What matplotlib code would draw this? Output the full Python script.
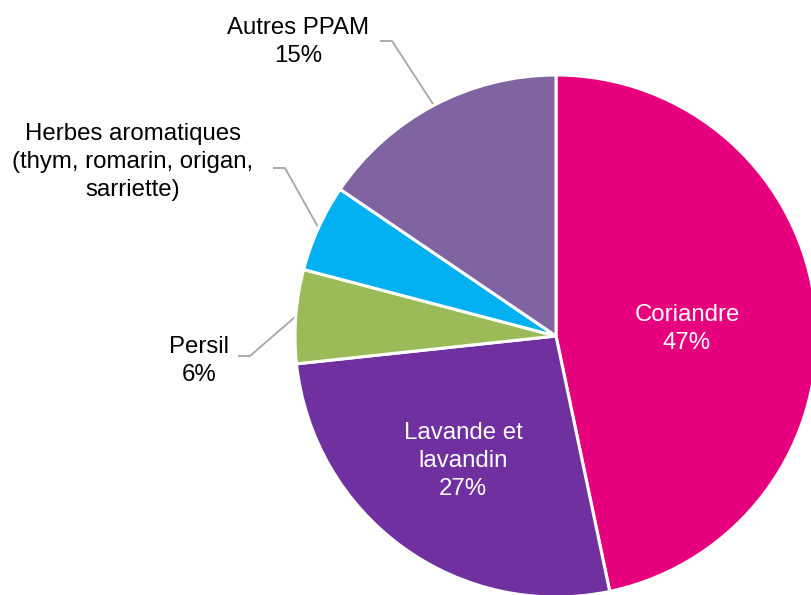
import matplotlib
matplotlib.use("Agg")
import matplotlib.pyplot as plt
import numpy as np

plt.rcParams['font.family'] = ['Liberation Sans', 'DejaVu Sans']

# Data
categories = ['Coriandre', 'Lavande et\nlavandin', 'Persil',
              'Herbes aromatiques\n(thym, romarin, origan,\nsarriette)', 'Autres PPAM']
values = [46.7, 26.6, 5.8, 5.4, 15.5]
pct_labels = ['47%', '27%', '6%', '', '15%']
colors = ['#E6007E', '#7030A0', '#9BBB59', '#00B0F0', '#8064A2']

W, H = 812, 595
fig = plt.figure(figsize=(W / 100, H / 100), dpi=100)
ax = fig.add_axes([0, 0, 1, 1])

def py(y):  # pixel y (top-down) -> data y
    return H - y

cx, cy, R = 556, py(336), 261
wedges, _ = ax.pie(values, colors=colors, startangle=90, counterclock=False,
                   center=(cx, cy), radius=R,
                   wedgeprops=dict(edgecolor='white', linewidth=2.2))
ax.set_xlim(0, W)
ax.set_ylim(0, H)
ax.set_aspect('auto')
ax.axis('off')

fs = 17.3
ls = 1.34
# label layout: (inside?, text center x, text center y (pixel), leader start x, leader y)
layout = [
    (True, 687, 329, None, None),
    (True, 463, 461, None, None),
    (False, 199, 361, 238, 356),
    (False, 133, 162, 273, 168),
    (False, 298, 42, 380, 41),
]

for w, cat, pct, (inside, tx, ty, lx, ly) in zip(wedges, categories, pct_labels, layout):
    txt = cat + ('\n' + pct if pct else '')
    if inside:
        ax.text(tx, py(ty), txt, ha='center', va='center', color='white',
                fontsize=fs, linespacing=ls)
    else:
        ax.text(tx, py(ty), txt, ha='center', va='center', color='black',
                fontsize=fs, linespacing=ls)
        mid = np.deg2rad((w.theta1 + w.theta2) / 2)
        ex = cx + R * np.cos(mid)
        ey = cy + R * np.sin(mid)
        ax.plot([lx, lx + 12, ex], [py(ly), py(ly), ey], color='#A6A6A6',
                lw=1.3, solid_capstyle='butt', zorder=0.5)

fig.savefig('out.png', dpi=100)
